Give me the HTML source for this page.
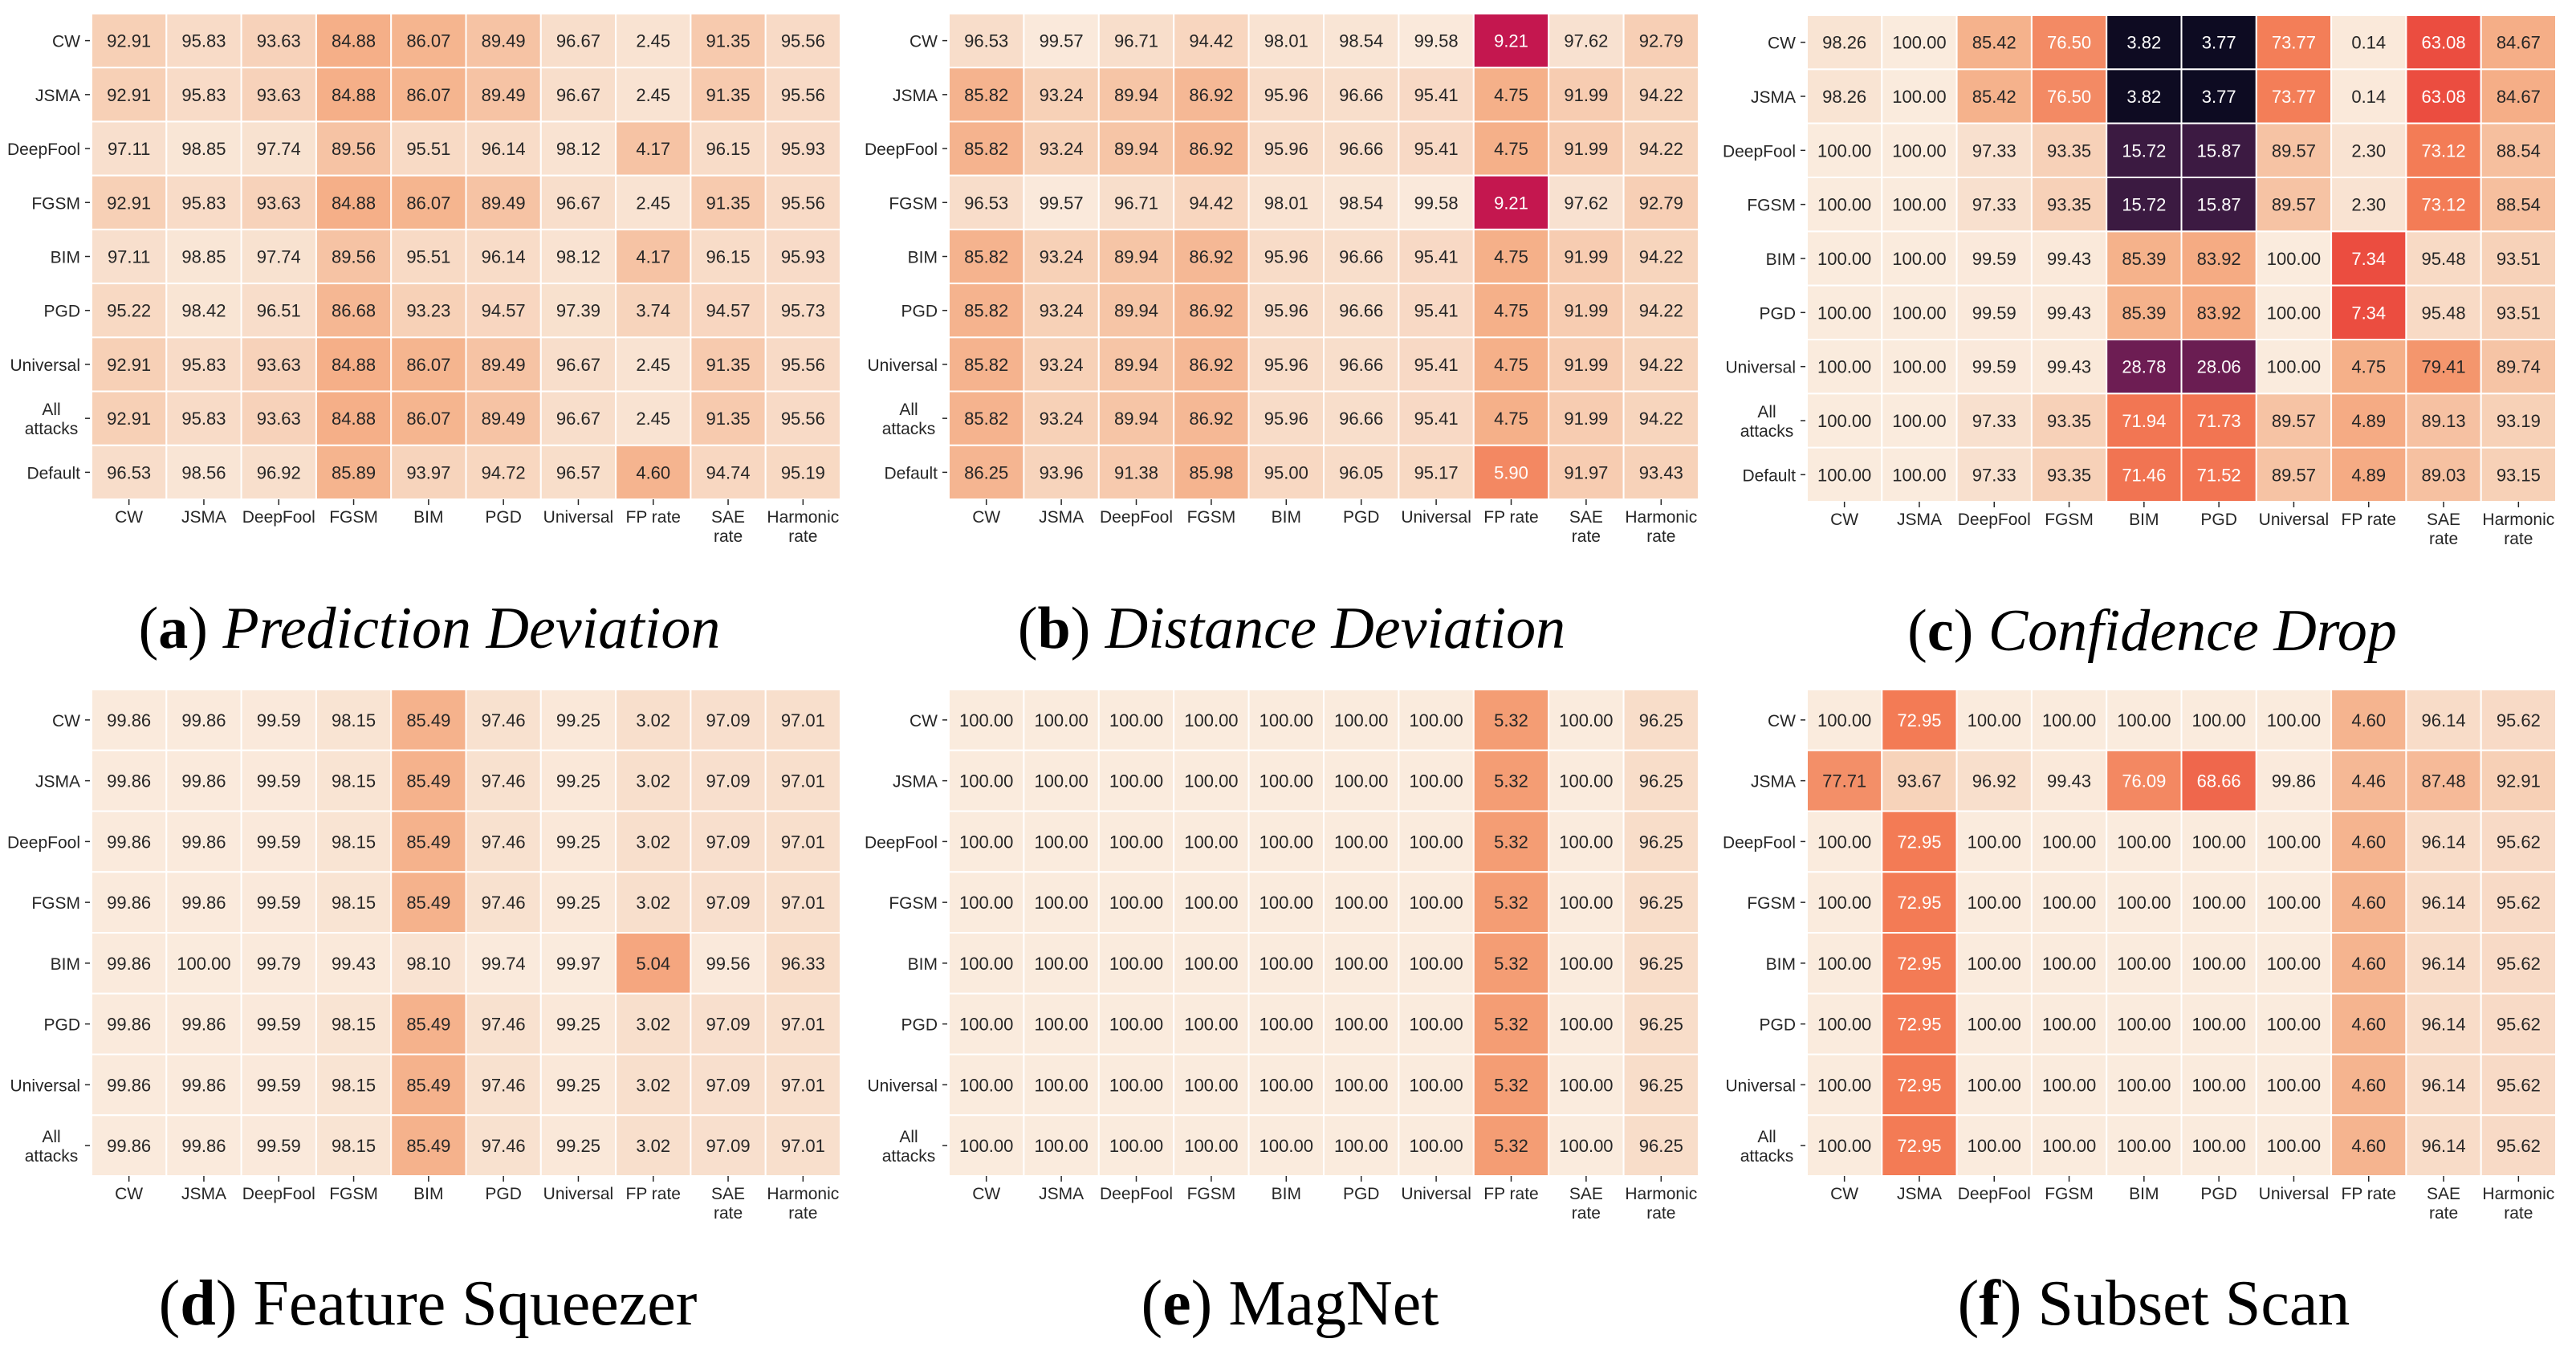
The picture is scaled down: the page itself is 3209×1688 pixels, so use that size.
<!DOCTYPE html>
<html><head><meta charset="utf-8">
<style>
html,body{margin:0;padding:0;background:#fff;}
svg{display:block;}
.cell-text{font-family:"Liberation Sans",sans-serif;font-size:22px;}
.tick{font-family:"Liberation Sans",sans-serif;font-size:21px;fill:#262626;}
.cap{font-family:"Liberation Serif",serif;fill:#000;}
</style></head>
<body>
<svg id="fig" width="3209" height="1688" viewBox="0 0 3209 1688" xmlns="http://www.w3.org/2000/svg"></svg>
<script>
const colLabels = [["CW"],["JSMA"],["DeepFool"],["FGSM"],["BIM"],["PGD"],["Universal"],["FP rate"],["SAE","rate"],["Harmonic","rate"]];
const rowLabels9 = [["CW"],["JSMA"],["DeepFool"],["FGSM"],["BIM"],["PGD"],["Universal"],["All","attacks"],["Default"]];
const rowLabels8 = [["CW"],["JSMA"],["DeepFool"],["FGSM"],["BIM"],["PGD"],["Universal"],["All","attacks"]];

const valuesA = [
[92.91,95.83,93.63,84.88,86.07,89.49,96.67,2.45,91.35,95.56],
[92.91,95.83,93.63,84.88,86.07,89.49,96.67,2.45,91.35,95.56],
[97.11,98.85,97.74,89.56,95.51,96.14,98.12,4.17,96.15,95.93],
[92.91,95.83,93.63,84.88,86.07,89.49,96.67,2.45,91.35,95.56],
[97.11,98.85,97.74,89.56,95.51,96.14,98.12,4.17,96.15,95.93],
[95.22,98.42,96.51,86.68,93.23,94.57,97.39,3.74,94.57,95.73],
[92.91,95.83,93.63,84.88,86.07,89.49,96.67,2.45,91.35,95.56],
[92.91,95.83,93.63,84.88,86.07,89.49,96.67,2.45,91.35,95.56],
[96.53,98.56,96.92,85.89,93.97,94.72,96.57,4.60,94.74,95.19]];
const valuesB = [
[96.53,99.57,96.71,94.42,98.01,98.54,99.58,9.21,97.62,92.79],
[85.82,93.24,89.94,86.92,95.96,96.66,95.41,4.75,91.99,94.22],
[85.82,93.24,89.94,86.92,95.96,96.66,95.41,4.75,91.99,94.22],
[96.53,99.57,96.71,94.42,98.01,98.54,99.58,9.21,97.62,92.79],
[85.82,93.24,89.94,86.92,95.96,96.66,95.41,4.75,91.99,94.22],
[85.82,93.24,89.94,86.92,95.96,96.66,95.41,4.75,91.99,94.22],
[85.82,93.24,89.94,86.92,95.96,96.66,95.41,4.75,91.99,94.22],
[85.82,93.24,89.94,86.92,95.96,96.66,95.41,4.75,91.99,94.22],
[86.25,93.96,91.38,85.98,95.00,96.05,95.17,5.90,91.97,93.43]];
const valuesC = [
[98.26,100.00,85.42,76.50,3.82,3.77,73.77,0.14,63.08,84.67],
[98.26,100.00,85.42,76.50,3.82,3.77,73.77,0.14,63.08,84.67],
[100.00,100.00,97.33,93.35,15.72,15.87,89.57,2.30,73.12,88.54],
[100.00,100.00,97.33,93.35,15.72,15.87,89.57,2.30,73.12,88.54],
[100.00,100.00,99.59,99.43,85.39,83.92,100.00,7.34,95.48,93.51],
[100.00,100.00,99.59,99.43,85.39,83.92,100.00,7.34,95.48,93.51],
[100.00,100.00,99.59,99.43,28.78,28.06,100.00,4.75,79.41,89.74],
[100.00,100.00,97.33,93.35,71.94,71.73,89.57,4.89,89.13,93.19],
[100.00,100.00,97.33,93.35,71.46,71.52,89.57,4.89,89.03,93.15]];
const valuesD = [
[99.86,99.86,99.59,98.15,85.49,97.46,99.25,3.02,97.09,97.01],
[99.86,99.86,99.59,98.15,85.49,97.46,99.25,3.02,97.09,97.01],
[99.86,99.86,99.59,98.15,85.49,97.46,99.25,3.02,97.09,97.01],
[99.86,99.86,99.59,98.15,85.49,97.46,99.25,3.02,97.09,97.01],
[99.86,100.00,99.79,99.43,98.10,99.74,99.97,5.04,99.56,96.33],
[99.86,99.86,99.59,98.15,85.49,97.46,99.25,3.02,97.09,97.01],
[99.86,99.86,99.59,98.15,85.49,97.46,99.25,3.02,97.09,97.01],
[99.86,99.86,99.59,98.15,85.49,97.46,99.25,3.02,97.09,97.01]];
const valuesE = [
[100,100,100,100,100,100,100,5.32,100,96.25],
[100,100,100,100,100,100,100,5.32,100,96.25],
[100,100,100,100,100,100,100,5.32,100,96.25],
[100,100,100,100,100,100,100,5.32,100,96.25],
[100,100,100,100,100,100,100,5.32,100,96.25],
[100,100,100,100,100,100,100,5.32,100,96.25],
[100,100,100,100,100,100,100,5.32,100,96.25],
[100,100,100,100,100,100,100,5.32,100,96.25]];
const valuesF = [
[100,72.95,100,100,100,100,100,4.60,96.14,95.62],
[77.71,93.67,96.92,99.43,76.09,68.66,99.86,4.46,87.48,92.91],
[100,72.95,100,100,100,100,100,4.60,96.14,95.62],
[100,72.95,100,100,100,100,100,4.60,96.14,95.62],
[100,72.95,100,100,100,100,100,4.60,96.14,95.62],
[100,72.95,100,100,100,100,100,4.60,96.14,95.62],
[100,72.95,100,100,100,100,100,4.60,96.14,95.62],
[100,72.95,100,100,100,100,100,4.60,96.14,95.62]];

const NS = "http://www.w3.org/2000/svg";
const svg = document.getElementById('fig');

const cmapB = [0,3,4.2,7,10.5,15,20,24,27,30,37,45,50,60,71,84,96,100];
const cmapC = ["#faebdd","#f8dfcc","#f8dbc7","#f7d0b6","#f6c3a4","#f5b089","#f4986f","#f38862","#f37b55","#f06d4f","#eb4d40","#d42a4d","#c4174f","#971c5b","#6e1d53","#3c1a42","#0e0b22","#03051a"];
const fpV = [0,0.14,2.3,2.45,3.02,3.74,4.17,4.46,4.6,4.75,5.04,5.32,5.9,7.34,9.21,12];
const fpB = [0,0.5,2,2,3,6,10.5,13,14,15,17,19,24,37,50,65];
function interp(xs, ys, x){
  if (x<=xs[0]) return ys[0];
  for (let i=1;i<xs.length;i++){ if (x<=xs[i]){ const t=(x-xs[i-1])/(xs[i]-xs[i-1]); return ys[i-1]+t*(ys[i]-ys[i-1]); } }
  return ys[ys.length-1];
}
function hex(c){return [parseInt(c.slice(1,3),16),parseInt(c.slice(3,5),16),parseInt(c.slice(5,7),16)];}
function color(b){
  b=Math.max(0,Math.min(100,b));
  for (let i=1;i<cmapB.length;i++){ if (b<=cmapB[i]){ const t=(b-cmapB[i-1])/(cmapB[i]-cmapB[i-1]); const a=hex(cmapC[i-1]), c=hex(cmapC[i]); return 'rgb('+a.map((v,k)=>Math.round(v+t*(c[k]-v))).join(',')+')'; } }
  return cmapC[cmapC.length-1];
}
function badness(v,col){ return col===7 ? interp(fpV,fpB,v) : 100-v; }

function mk(tag, attrs, parent){ const e=document.createElementNS(NS,tag); for (const k in attrs) e.setAttribute(k,attrs[k]); (parent||svg).appendChild(e); return e; }

function heatmap(id, vals, rLabels, x0, x1, y0, y1, capParts, capItalic, capX){
  const g = mk('g',{});
  
  
  const nr = vals.length, nc = vals[0].length;
  const cw = (x1-x0)/nc, ch = (y1-y0)/nr;
  const xs = c => x0 + c*cw;
  const ys = r => y0 + r*ch;
  for (let r=0;r<nr;r++) for (let c=0;c<nc;c++){
    const v = vals[r][c], b = badness(v,c);
    const rect = mk('rect',{x:xs(c),y:ys(r),width:cw,height:ch,fill:color(b),stroke:'#fff','stroke-width':2},g);
    
    
    const t = mk('text',{x:xs(c)+cw/2,y:ys(r)+ch/2+8,'text-anchor':'middle',class:'cell-text',fill: b>23?'#ffffff':'#262626'},g);
    t.textContent = v.toFixed(2);
    
    
  }
  for (let c=0;c<nc;c++){
    const cx = xs(c)+cw/2;
    mk('line',{x1:cx,x2:cx,y1:y1,y2:y1+7,stroke:'#262626','stroke-width':1.5},g);
    const t = mk('text',{x:cx,y:y1+29,'text-anchor':'middle',class:'tick'},g);
    
    
    colLabels[c].forEach((s,i)=>{ const ts=mk('tspan',{x:cx,dy:i?24:0},t); ts.textContent=s; });
  }
  for (let r=0;r<nr;r++){
    const cy = ys(r)+ch/2;
    mk('line',{x1:x0-8,x2:x0-2,y1:cy,y2:cy,stroke:'#262626','stroke-width':1.5},g);
    const lines = rLabels[r];
    const t = mk('text',{x:x0-14,y:cy+8-(lines.length-1)*12,'text-anchor':'end',class:'tick'},g);
    
    
    lines.forEach((s,i)=>{ const ts=mk('tspan',{x:lines.length>1? x0-50 : x0-14,dy:i?24:0,'text-anchor':lines.length>1?'middle':'end'},t); ts.textContent=s; });
  }
  const capY = y1 + 185;
  const cap = mk('text',{x:capX,y:capY,'text-anchor':'middle',class:'cap','font-size':capItalic?74:80},g);
  
  
  const p1 = mk('tspan',{},cap); p1.textContent='(';
  const p2 = mk('tspan',{'font-weight':'bold'},cap); p2.textContent=capParts[0];
  const p3 = mk('tspan',{},cap); p3.textContent=') ';
  const p4 = mk('tspan',capItalic?{'font-style':'italic'}:{},cap); p4.textContent=capParts[1];
}

heatmap('a', valuesA, rowLabels9, 114, 1047, 17, 622, ['a','Prediction Deviation'], true, 535);
heatmap('b', valuesB, rowLabels9, 1182, 2116, 17, 622, ['b','Distance Deviation'], true, 1609);
heatmap('c', valuesC, rowLabels9, 2251, 3184, 19, 625, ['c','Confidence Drop'], true, 2681);
heatmap('d', valuesD, rowLabels8, 114, 1047, 859, 1465, ['d','Feature Squeezer'], false, 533);
heatmap('e', valuesE, rowLabels8, 1182, 2116, 859, 1465, ['e','MagNet'], false, 1607);
heatmap('f', valuesF, rowLabels8, 2251, 3184, 859, 1465, ['f','Subset Scan'], false, 2683);
</script>
</body></html>
